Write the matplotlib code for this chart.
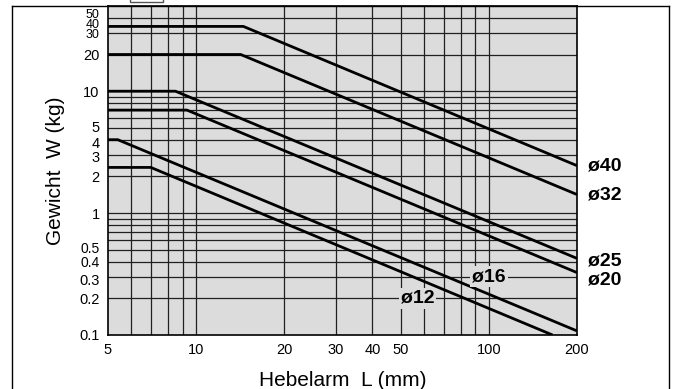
import matplotlib
matplotlib.use('Agg')
import matplotlib.pyplot as plt
import matplotlib.transforms as mtransforms
from matplotlib.lines import Line2D
from matplotlib.patches import Rectangle

plt.rcParams['font.family'] = ['Liberation Sans', 'DejaVu Sans']

# ---- data ----
series_names = ['ø40', 'ø32', 'ø25', 'ø20', 'ø16', 'ø12']
L_40 = [5, 14.5, 200]
W_40 = [34, 34, 2.45]
L_32 = [5, 14.2, 200]
W_32 = [20, 20, 1.42]
L_25 = [5, 8.5, 200]
W_25 = [10, 10, 0.425]
L_20 = [5, 9.3, 200]
W_20 = [7, 7, 0.325]
L_16 = [5, 5.4, 200]
W_16 = [4, 4, 0.108]
L_12 = [5, 7, 165]
W_12 = [2.37, 2.37, 0.1]

x_ticks = [5, 10, 20, 30, 40, 50, 100, 200]
x_tick_labels = ['5', '10', '20', '30', '40', '50', '100', '200']
y_ticks = [0.1, 0.2, 0.3, 0.4, 0.5, 1, 2, 3, 4, 5, 10, 20, 30, 40, 50]
y_tick_labels = ['0.1', '0.2', '0.3', '0.4', '0.5', '1', '2', '3', '4', '5',
                 '10', '20', '30', '40', '50']
x_grid = [6, 7, 8, 9, 10, 20, 30, 40, 50, 60, 70, 80, 90, 100]
y_grid = [0.2, 0.3, 0.4, 0.5, 0.6, 0.7, 0.8, 0.9,
          1, 2, 3, 4, 5, 6, 7, 8, 9, 10, 20, 30, 40]

BG = '#dcdcdc'

fig = plt.figure(figsize=(6.74, 3.89), dpi=100)
ax = fig.add_axes([108 / 674, 1 - 335 / 389, (577 - 108) / 674, (335 - 6) / 389])
ax.set_facecolor(BG)
ax.set_xscale('log')
ax.set_yscale('log')
ax.set_xlim(5, 200)
ax.set_ylim(0.1, 50)

for xv in x_grid:
    ax.axvline(xv, color='#202020', lw=0.9, zorder=1)
for yv in y_grid:
    ax.axhline(yv, color='#202020', lw=0.9, zorder=1)

series = [(L_40, W_40), (L_32, W_32), (L_25, W_25), (L_20, W_20), (L_16, W_16), (L_12, W_12)]
for (lx, wy) in series:
    ax.plot(lx, wy, color='black', lw=2.0, solid_capstyle='butt', zorder=3, clip_on=True)

ax.xaxis.set_major_locator(matplotlib.ticker.FixedLocator(x_ticks))
ax.xaxis.set_minor_locator(matplotlib.ticker.NullLocator())
ax.set_xticklabels(x_tick_labels)
ax.yaxis.set_major_locator(matplotlib.ticker.FixedLocator(y_ticks))
ax.yaxis.set_minor_locator(matplotlib.ticker.NullLocator())
ax.set_yticklabels(y_tick_labels)
ax.tick_params(axis='both', length=0, labelsize=10.5, pad=6)

# crowded labels are smaller and nudged in the reference: (fontsize, pixel shift down)
label_tweaks = {'50': (9, 7.5), '40': (9, 5.5), '30': (9, 0.5),
                '5': (10.5, -1.5), '4': (10.5, 2.5), '3': (10.5, 2),
                '0.5': (10, -2), '0.4': (10, 0), '0.3': (10.5, 2.5)}
for lbl in ax.get_yticklabels():
    t = lbl.get_text()
    if t in label_tweaks:
        fs, dy = label_tweaks[t]
        lbl.set_fontsize(fs)
        lbl.set_transform(lbl.get_transform() +
                          mtransforms.ScaledTranslation(0, -dy / 100, fig.dpi_scale_trans))

for s in ax.spines.values():
    s.set_linewidth(1.2)
    s.set_color('black')

ax.set_xlabel('Hebelarm  L (mm)', fontsize=15, labelpad=10)
ax.set_ylabel('Gewicht  W (kg)', fontsize=15, labelpad=10)

# right-side series labels
trans = mtransforms.blended_transform_factory(ax.transAxes, ax.transData)
right_labels = [('ø40', W_40[-1], 0), ('ø32', W_32[-1], 0), ('ø25', W_25[-1], -2), ('ø20', W_20[-1], -5)]
for name, yv, dy in right_labels:
    ax.annotate(name, xy=(1.0, yv), xycoords=trans, xytext=(8, dy), textcoords='offset points',
                ha='left', va='center', fontsize=14, fontweight='bold', annotation_clip=False)

# inner labels
ax.text(100, 0.3, 'ø16', ha='center', va='center', fontsize=14, fontweight='bold', zorder=4,
        bbox=dict(facecolor=BG, edgecolor='none', pad=1.5))
ax.text(57, 0.2, 'ø12', ha='center', va='center', fontsize=14, fontweight='bold', zorder=4,
        bbox=dict(facecolor=BG, edgecolor='none', pad=1.5))

# outer frame
fig.add_artist(Line2D([11.5 / 674, 11.5 / 674], [-0.01, 1 - 6 / 389], transform=fig.transFigure, color='black', lw=1.0))
fig.add_artist(Line2D([669 / 674, 669 / 674], [-0.01, 1 - 6 / 389], transform=fig.transFigure, color='black', lw=1.0))
fig.add_artist(Line2D([11.5 / 674, 669 / 674], [1 - 6 / 389, 1 - 6 / 389], transform=fig.transFigure, color='black', lw=1.0))
# small cut-off box at the top edge
fig.add_artist(Rectangle((130 / 674, 1 - 2 / 389), 33 / 674, 0.05, transform=fig.transFigure,
                         facecolor='white', edgecolor='#555555', lw=1.0))

fig.savefig('out.png', dpi=100)
